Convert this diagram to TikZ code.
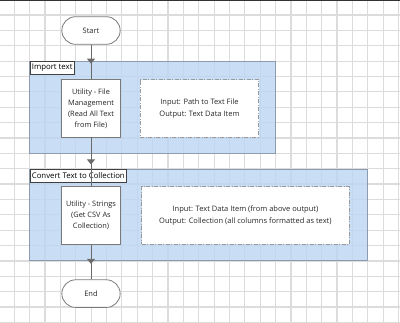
\documentclass[tikz,border=0pt]{standalone}
\usepackage{fontspec}
\setmainfont{Open Sans}
\usetikzlibrary{arrows.meta, positioning, decorations.markings}

\definecolor{gridgray}{HTML}{DCDCDC}
\definecolor{grpfill}{HTML}{BCD6F2}
\definecolor{grpline}{HTML}{8C9CAE}
\definecolor{stageline}{HTML}{7A7A7A}
\definecolor{noteline}{HTML}{9A9A9A}
\definecolor{linkgray}{HTML}{6A6A6A}

\begin{document}
\begin{tikzpicture}[
  x=1pt, y=-1pt,
  gridline/.style={draw=gridgray, line width=1.2pt},
  terminal/.style={
    rectangle, rounded corners=13.8pt, draw=stageline, fill=white,
    minimum width=58.3pt, minimum height=27.6pt,
    font=\fontsize{7.5}{9}\selectfont, text=black!85, line width=0.8pt
  },
  stage/.style={
    rectangle, draw=stageline, fill=white,
    minimum width=58.3pt, minimum height=57.5pt, inner sep=1pt,
    align=center, font=\fontsize{7.4}{11}\selectfont, text=black!85,
    line width=0.8pt
  },
  note/.style={
    rectangle, draw=noteline, fill=white, minimum width=#1,
    minimum height=57.5pt, align=center,
    font=\fontsize{7.5}{11.5}\selectfont, text=black!85, line width=0.9pt,
    dash pattern=on 4pt off 1.5pt on 1pt off 1.5pt
  },
  note/.default={118.4pt},
  block/.style={fill=grpfill, fill opacity=0.8, draw=grpline, line width=0.8pt},
  blocklabel/.style={
    rectangle, draw=black!75, fill=white, anchor=north west,
    minimum height=12.8pt, inner xsep=2pt, inner ysep=1pt,
    font=\fontsize{7.8}{9}\selectfont, text=black, line width=0.7pt
  },
  link/.style={
    draw=linkgray, line width=0.9pt, postaction={decorate},
    decoration={markings, mark=at position 0.55 with
      {\arrow[linkgray]{Triangle[length=5pt, width=8pt]}}}
  }
]
\useasboundingbox (0,0) rectangle (400,323);

% === Background grid ===
\fill[white] (0,0) rectangle (400,323);
\foreach \i in {0,...,25}
  \draw[gridline] ({14.3+15.37*\i},0) -- ++(0,323);
\foreach \j in {0,...,20}
  \draw[gridline] (0,{15+15.37*\j}) -- ++(400,0);
\draw[black!80, line width=2pt] (0,0) -- (400,0);

% === Blocks (drawn via coordinates) ===
\draw[block] (29.5,61.3) rectangle (275.5,153.3);
\draw[block] (29.5,169) rectangle (367.5,260.8);
\node[blocklabel] (lbl1) at (29.5,61.3) {Import text};
\node[blocklabel] (lbl2) at (29.5,169) {Convert Text to Collection};

% === Stages ===
\node[terminal] (start) at (91,30.5) {Start};

\node[stage, below=34.5pt of start] (util1) {
  Utility - File\\Management\\(Read All Text\\from File)
};
\node[note, right=19.3pt of util1] (info1) {
  Input: Path to Text File\\Output: Text Data Item
};

\node[stage, below=49pt of util1] (util2) {
  Utility - Strings\\(Get CSV As\\Collection)
};
\node[note=207.6pt, right=20.6pt of util2] (info2) {
  Input: Text Data Item (from above output)\\
  Output: Collection (all columns formatted as text)
};

\node[terminal, below=34.6pt of util2] (end) {End};

% === Links ===
\draw[link] (start) -- (util1);
\draw[link] (util1) -- (util2);
\draw[link] (util2) -- (end);

\end{tikzpicture}
\end{document}
